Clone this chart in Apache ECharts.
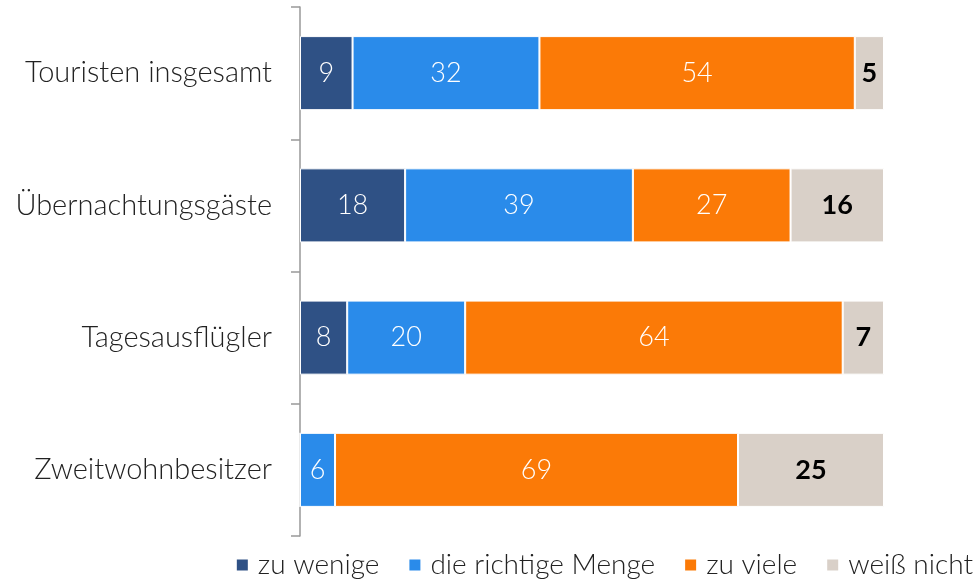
<!DOCTYPE html>
<html><head><meta charset="utf-8">
<script src="https://cdn.jsdelivr.net/npm/echarts@6/dist/echarts.min.js"></script>
<style>html,body{margin:0;padding:0;background:#fff}#c{width:978px;height:580px}</style>
</head><body><div id="c"></div>
<script>
const categories = ['Touristen insgesamt', 'Übernachtungsgäste', 'Tagesausflügler', 'Zweitwohnbesitzer'];
const seriesNames = ['zu wenige', 'die richtige Menge', 'zu viele', 'weiß nicht'];
const zuWenige = [9, 18, 8, 0];
const richtigeMenge = [32, 39, 20, 6];
const zuViele = [54, 27, 64, 69];
const weissNicht = [5, 16, 7, 25];
const colors = ['#2F5185', '#2A8BEA', '#FB7A07', '#D9D0C8'];

const all = [zuWenige, richtigeMenge, zuViele, weissNicht];
const totals = categories.map((_, i) => all.reduce((s, a) => s + a[i], 0));
const FONT = 'Lato';

const series = all.map((arr, si) => ({
  name: seriesNames[si],
  type: 'bar',
  stack: 'total',
  barWidth: '56%',
  data: arr.map((v, i) => ({ value: v / totals[i] * 100, raw: v })),
  itemStyle: { color: colors[si], borderColor: '#fff', borderWidth: 1 },
  label: {
    show: true,
    position: 'inside',
    fontFamily: FONT,
    fontSize: 27,
    fontWeight: si === 3 ? 'bold' : 300,
    color: si === 3 ? '#000' : '#fff',
    formatter: p => p.data.raw > 0 ? String(p.data.raw) : ''
  }
}));

const chart = echarts.init(document.getElementById('c'), null, { renderer: 'canvas' });
chart.setOption({
  animation: false,
  grid: { left: 300, right: 94, top: 7, bottom: 44, containLabel: false },
  legend: {
    data: seriesNames,
    bottom: -4,
    right: 0,
    itemWidth: 13,
    itemHeight: 13,
    itemGap: 28,
    icon: 'rect',
    textStyle: { fontFamily: FONT, fontSize: 28, fontWeight: 300, color: '#222', padding: [0, 0, 0, 4] }
  },
  xAxis: { type: 'value', min: 0, max: 100, show: false },
  yAxis: {
    type: 'category',
    data: categories,
    inverse: true,
    axisLine: { show: true, lineStyle: { color: '#999', width: 1.5 } },
    axisTick: { show: true, length: 9, lineStyle: { color: '#999', width: 1.5 } },
    axisLabel: { fontFamily: FONT, fontSize: 29, fontWeight: 300, color: '#222', margin: 28 }
  },
  series
});
</script></body></html>
